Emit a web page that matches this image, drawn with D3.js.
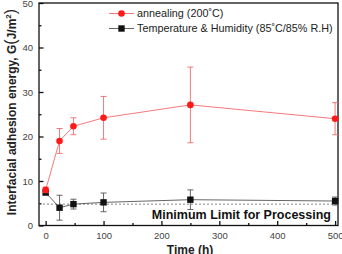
<!DOCTYPE html>
<html>
<head>
<meta charset="utf-8">
<script src="https://cdn.jsdelivr.net/npm/d3@7"></script>
<style>
  body { margin: 0; background: #fff; }
  svg { display: block; font-family: "Liberation Sans", Arial, sans-serif; }
</style>
</head>
<body>
<svg id="chart"></svg>
<script>
// data
var times = [0, 24, 48, 100, 250, 500];
var annealMean = [8.0, 19.0, 22.3, 24.2, 27.1, 24.0];
var annealErr = [0.6, 2.8, 1.9, 4.8, 8.5, 3.6];
var thMean = [7.4, 4.0, 4.8, 5.2, 5.8, 5.5];
var thErr = [0.4, 2.8, 1.1, 2.1, 2.2, 0.9];
var minLimit = 4.8;
var xTicks = [0, 100, 200, 300, 400, 500];
var yTicks = [0, 10, 20, 30, 40, 50];
var legendLabels = ["annealing (200\u02DAC)", "Temperature & Humidity (85\u02DAC/85% R.H)"];

var W = 342, H = 254;
var svg = d3.select("#chart").attr("width", W).attr("height", H);

var x = d3.scaleLinear().domain([-11.5, 505]).range([39, 338]);
var y = d3.scaleLinear().domain([0, 50]).range([225.5, 3]);

// frame
svg.append("rect")
  .attr("x", x.range()[0]).attr("y", y.range()[1])
  .attr("width", x.range()[1] - x.range()[0])
  .attr("height", y.range()[0] - y.range()[1])
  .attr("fill", "none").attr("stroke", "#111").attr("stroke-width", 1.3);

// minor ticks
var gxm = svg.append("g").attr("transform", `translate(0,${y.range()[0]})`)
  .call(d3.axisBottom(x).tickValues([50, 150, 250, 350, 450]).tickSize(-2.5).tickFormat(""));
var gym = svg.append("g").attr("transform", `translate(${x.range()[0]},0)`)
  .call(d3.axisLeft(y).tickValues([5, 15, 25, 35, 45]).tickSize(-2.5).tickFormat(""));

// major axes
var gx = svg.append("g").attr("transform", `translate(0,${y.range()[0]})`)
  .call(d3.axisBottom(x).tickValues(xTicks).tickSize(-4.5).tickPadding(7));
var gy = svg.append("g").attr("transform", `translate(${x.range()[0]},0)`)
  .call(d3.axisLeft(y).tickValues(yTicks).tickSize(-4.5).tickPadding(6));

[gx, gy, gxm, gym].forEach(function (g) {
  g.select(".domain").remove();
  g.selectAll(".tick line").attr("stroke", "#111").attr("stroke-width", 1.3);
  g.selectAll("text").attr("fill", "#444").style("font-size", "9.5px")
    .style("font-family", "'Liberation Sans', Arial, sans-serif");
});
gy.selectAll(".tick text").attr("dy", "0.35em");

// minimum limit dashed line
svg.append("line")
  .attr("x1", x.range()[0]).attr("x2", x.range()[1])
  .attr("y1", y(minLimit)).attr("y2", y(minLimit))
  .attr("stroke", "#666").attr("stroke-width", 0.8).attr("stroke-dasharray", "2,2");

svg.append("text")
  .attr("x", 331).attr("y", 219)
  .attr("text-anchor", "end")
  .attr("fill", "#111")
  .style("font-size", "12.5px").style("font-weight", "bold")
  .text("Minimum Limit for Processing");

function drawSeries(mean, err, color, lineColor, shape) {
  var pts = times.map(function (t, i) { return { t: t, m: mean[i], e: err[i] }; });
  var g = svg.append("g");
  g.append("path").datum(pts)
    .attr("fill", "none").attr("stroke", lineColor).attr("stroke-width", 0.9)
    .attr("d", d3.line().x(function (d) { return x(d.t); }).y(function (d) { return y(d.m); }));
  var eb = g.selectAll(".eb").data(pts).enter().append("g")
    .attr("stroke", lineColor).attr("stroke-width", 0.9);
  eb.append("line")
    .attr("x1", function (d) { return x(d.t); }).attr("x2", function (d) { return x(d.t); })
    .attr("y1", function (d) { return y(d.m - d.e); }).attr("y2", function (d) { return y(d.m + d.e); });
  [-1, 1].forEach(function (s) {
    eb.append("line")
      .attr("x1", function (d) { return x(d.t) - 3; }).attr("x2", function (d) { return x(d.t) + 3; })
      .attr("y1", function (d) { return y(d.m + s * d.e); }).attr("y2", function (d) { return y(d.m + s * d.e); });
  });
  if (shape === "circle") {
    g.selectAll("circle").data(pts).enter().append("circle")
      .attr("cx", function (d) { return x(d.t); }).attr("cy", function (d) { return y(d.m); })
      .attr("r", 3.3).attr("fill", color);
  } else {
    g.selectAll("rect.m").data(pts).enter().append("rect")
      .attr("x", function (d) { return x(d.t) - 3.2; }).attr("y", function (d) { return y(d.m) - 3.2; })
      .attr("width", 6.4).attr("height", 6.4).attr("fill", color);
  }
}

drawSeries(thMean, thErr, "#111", "#555", "square");
drawSeries(annealMean, annealErr, "#ff1a1a", "#f26b6b", "circle");

// legend
var leg = svg.append("g");
legendLabels.forEach(function (lab, i) {
  var ly = 13.5 + i * 15;
  var col = i === 0 ? "#f26b6b" : "#555";
  leg.append("line").attr("x1", 109).attr("x2", 134).attr("y1", ly).attr("y2", ly)
    .attr("stroke", col).attr("stroke-width", 0.9);
  if (i === 0) {
    leg.append("circle").attr("cx", 121.5).attr("cy", ly).attr("r", 3.3).attr("fill", "#ff1a1a");
  } else {
    leg.append("rect").attr("x", 118.3).attr("y", ly - 3.2).attr("width", 6.4).attr("height", 6.4).attr("fill", "#111");
  }
  leg.append("text").attr("x", 137).attr("y", ly).attr("dy", "0.35em")
    .attr("fill", "#222").style("font-size", "10.8px").text(lab);
});

// axis titles
svg.append("text")
  .attr("x", 190).attr("y", 254)
  .attr("text-anchor", "middle").attr("fill", "#222")
  .style("font-size", "12px").style("font-weight", "bold")
  .text("Time (h)");

var yt = svg.append("text")
  .attr("transform", "translate(16,112) rotate(-90)")
  .attr("text-anchor", "middle").attr("fill", "#222")
  .style("font-size", "12px").style("font-weight", "bold");
yt.append("tspan").text("Interfacial adhesion energy, G");
yt.append("tspan").style("font-size", "16px").style("font-weight", "normal").text("(");
yt.append("tspan").text("J/m");
yt.append("tspan").attr("dy", "-5").style("font-size", "8px").text("2");
yt.append("tspan").attr("dy", "5").style("font-size", "16px").style("font-weight", "normal").text(")");
</script>
</body>
</html>
